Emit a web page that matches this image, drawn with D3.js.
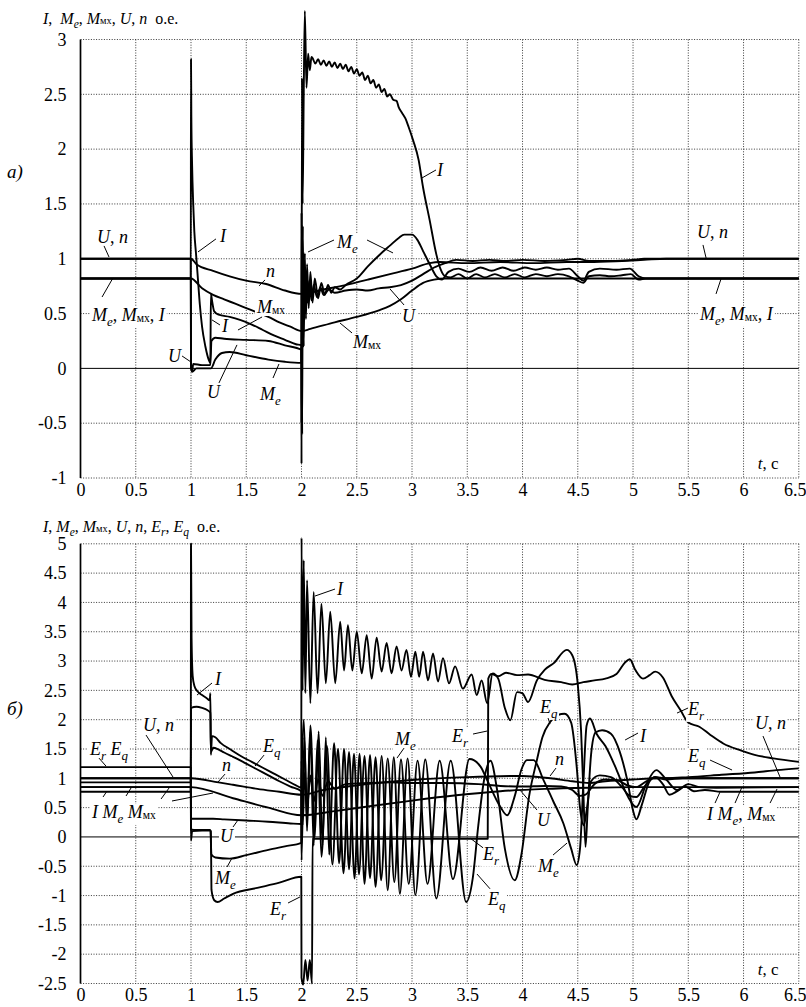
<!DOCTYPE html>
<html>
<head>
<meta charset="utf-8">
<script src="https://cdn.jsdelivr.net/npm/d3@7"></script>
</head>
<body style="margin:0">
<svg id="chart" width="806" height="1007"></svg>
<script>
// ---- ticks ----
const xTicks = [0, 0.5, 1, 1.5, 2, 2.5, 3, 3.5, 4, 4.5, 5, 5.5, 6, 6.5];
const topYTicks = [-1, -0.5, 0, 0.5, 1, 1.5, 2, 2.5, 3];
const botYTicks = [-2.5, -2, -1.5, -1, -0.5, 0, 0.5, 1, 1.5, 2, 2.5, 3, 3.5, 4, 4.5, 5];

// ---- a) series, [t, value] ----
const topI = [[0,0.82],[0.998,0.82],[1.0,2.82],[1.003,2.3],[1.01,1.85],[1.02,1.5],[1.03,1.25],[1.045,1.05],[1.06,0.85],[1.08,0.58],[1.1,0.38],[1.13,0.2],[1.16,0.08],[1.175,0.05],[1.18,0.68],[1.19,0.62],[1.21,0.52],[1.25,0.49],[1.35,0.47],[1.45,0.44],[1.55,0.4],[1.65,0.35],[1.75,0.3],[1.85,0.26],[1.95,0.22],[1.998,0.21],
  [2.0,-0.87],[2.004,2.65],[2.01,1.5],[2.02,2.5],[2.03,3.26],[2.045,2.56],[2.06,2.87],[2.075,2.72],[2.09,2.84],
  [2.1,2.83],[2.125,2.78],[2.15,2.82],[2.175,2.77],[2.2,2.81],[2.225,2.76],[2.25,2.8],[2.275,2.75],[2.3,2.79],[2.325,2.74],[2.35,2.78],[2.375,2.73],[2.4,2.77],[2.425,2.71],[2.45,2.75],[2.475,2.69],[2.5,2.73],[2.525,2.67],[2.55,2.7],[2.575,2.63],[2.6,2.67],[2.625,2.6],[2.65,2.63],[2.675,2.56],[2.7,2.59],[2.725,2.52],[2.75,2.55],[2.775,2.48],[2.8,2.5],[2.83,2.45],[2.86,2.44],[2.88,2.38],[2.91,2.33],[2.94,2.28],[2.97,2.2],[3.01,2.08],[3.06,1.9],[3.1,1.65],[3.16,1.35],[3.22,1.04],[3.26,0.9],[3.3,0.84],
  [3.35,0.83],[3.42,0.86],[3.5,0.82],[3.58,0.86],[3.66,0.83],[3.75,0.86],[3.84,0.83],[3.93,0.86],[4.02,0.83],[4.12,0.86],[4.22,0.84],[4.32,0.86],[4.42,0.84],[4.5,0.8],[4.55,0.78],[4.6,0.84],[4.7,0.85],[4.8,0.84],[4.9,0.85],[4.98,0.86],[5.05,0.81],[5.12,0.82],[6.5,0.82]];
const topMe = [[0,0.82],[0.998,0.82],[1.0,0.0],[1.01,-0.03],[1.05,0.0],[1.18,0.0],[1.22,0.08],[1.28,0.14],[1.35,0.15],[1.5,0.12],[1.7,0.08],[1.85,0.06],[1.998,0.05],
  [2.0,1.42],[2.006,-0.6],[2.012,1.3],[2.02,0.2],[2.03,1.05],[2.04,0.45],[2.05,0.95],[2.065,0.55],[2.08,0.88],[2.1,0.6],[2.12,0.82],[2.15,0.64],[2.18,0.78],[2.21,0.67],[2.24,0.76],[2.27,0.69],[2.3,0.74],[2.35,0.72],[2.4,0.76],[2.5,0.82],[2.6,0.93],[2.7,1.03],[2.8,1.12],[2.88,1.19],[2.93,1.22],[3.0,1.22],[3.05,1.17],[3.1,1.07],[3.16,0.95],[3.22,0.84],[3.27,0.81],
  [3.33,0.88],[3.42,0.91],[3.52,0.88],[3.62,0.92],[3.72,0.89],[3.82,0.92],[3.92,0.89],[4.02,0.92],[4.12,0.9],[4.22,0.92],[4.32,0.9],[4.42,0.91],[4.5,0.84],[4.55,0.8],[4.6,0.88],[4.7,0.91],[4.85,0.9],[4.97,0.91],[5.05,0.84],[5.12,0.82],[6.5,0.82]];
const topMmx = [[0,0.82],[1.0,0.82],[1.1,0.73],[1.2,0.67],[1.3,0.63],[1.4,0.59],[1.5,0.55],[1.6,0.51],[1.7,0.47],[1.8,0.42],[1.9,0.38],[2.0,0.34],[2.08,0.36],[2.3,0.42],[2.5,0.47],[2.7,0.53],[2.8,0.57],[2.9,0.63],[3.0,0.71],[3.1,0.78],[3.2,0.81],[3.3,0.82],[6.5,0.82]];
const topU = [[0,1.0],[0.998,1.0],[1.0,0.04],[1.01,-0.03],[1.02,0.04],[1.1,0.03],[1.175,0.03],[1.185,0.25],[1.22,0.28],[1.3,0.27],[1.5,0.26],[1.7,0.25],[1.85,0.21],[1.998,0.17],
  [2.0,-0.5],[2.005,1.0],[2.012,0.4],[2.02,0.9],[2.03,0.55],[2.04,0.85],[2.055,0.6],[2.07,0.8],[2.09,0.62],[2.11,0.76],[2.14,0.65],[2.17,0.74],[2.2,0.67],[2.25,0.72],[2.3,0.69],[2.4,0.71],[2.5,0.72],[2.6,0.71],[2.7,0.73],[2.8,0.74],[2.9,0.76],[3.0,0.8],[3.1,0.86],[3.2,0.92],[3.3,0.96],[3.4,0.99],[3.55,0.98],[3.7,0.99],[3.85,0.98],[4.0,0.99],[4.2,0.98],[4.4,0.99],[4.5,1.0],[4.6,0.98],[4.8,0.98],[5.0,0.99],[5.1,1.0],[6.5,1.0]];
const topN = [[0,1.0],[1.0,1.0],[1.05,0.95],[1.2,0.89],[1.35,0.84],[1.5,0.8],[1.68,0.77],[1.85,0.71],[2.0,0.68],[2.2,0.72],[2.4,0.76],[2.6,0.81],[2.8,0.86],[3.0,0.91],[3.16,0.96],[3.25,0.97],[3.5,0.96],[3.8,0.97],[4.1,0.96],[4.4,0.97],[4.6,0.97],[4.9,0.98],[5.1,0.99],[5.3,1.0],[6.5,1.0]];

// ---- б) series ----
const botI = [[0,0.77],[0.998,0.77],[1.0,5.0],[1.005,3.4],[1.015,2.75],[1.03,2.58],[1.06,2.48],[1.1,2.42],[1.14,2.37],[1.17,2.33],[1.175,2.45],[1.18,1.4],[1.19,1.72],[1.22,1.7],[1.27,1.6],[1.35,1.5],[1.45,1.38],[1.55,1.28],[1.65,1.18],[1.75,1.08],[1.85,0.98],[1.95,0.88],[1.998,0.84],
  [2.0,5.1],[2.01,2.5],[2.02,4.72],[2.035,2.45],[2.05,4.38],[2.08,2.28],[2.11,4.18],[2.145,2.45],[2.18,3.98],[2.22,2.62],[2.26,3.84],[2.305,2.62],[2.35,3.67],[2.385,2.84],[2.42,3.61],[2.46,2.84],[2.5,3.5],[2.545,2.79],[2.59,3.44],[2.635,2.7],[2.68,3.4],[2.725,2.82],[2.77,3.31],[2.815,2.79],[2.86,3.25],[2.905,2.84],[2.95,3.19],[2.99,2.73],[3.03,3.16],[3.065,2.73],[3.1,3.16],[3.145,2.67],[3.19,3.13],[3.235,2.65],[3.28,3.05],[3.335,2.62],[3.39,2.91],[3.46,2.53],[3.54,2.77],[3.585,2.42],[3.63,2.67],[3.68,2.28],
  [3.73,2.79],[3.78,2.7],[3.84,2.2],[3.89,1.99],[3.95,2.47],[4.0,2.45],[4.05,2.3],[4.13,2.67],[4.2,2.85],[4.28,2.96],[4.4,3.19],[4.45,3.1],[4.5,2.6],[4.53,1.8],[4.55,0.8],[4.57,-0.17],[4.59,0.5],[4.62,1.4],[4.66,1.78],[4.72,1.82],[4.8,1.76],[4.88,1.45],[4.95,0.95],[5.0,0.45],[5.03,0.3],[5.08,0.55],[5.15,0.95],[5.2,1.02],[5.27,0.9],[5.33,0.72],[5.4,0.78],[5.47,0.86],[5.55,0.78],[5.65,0.8],[5.8,0.77],[6.5,0.77]];
const botMe = [[0,0.85],[0.998,0.85],[1.0,-0.06],[1.01,0.1],[1.1,0.11],[1.175,0.11],[1.185,-0.3],[1.22,-0.35],[1.35,-0.37],[1.5,-0.31],[1.7,-0.22],[1.85,-0.16],[1.998,-0.1],
  [2.0,0.8],[2.02,2.0],[2.05,0.3],[2.08,1.9],[2.12,0.0],[2.155,1.8],[2.19,-0.15],[2.22,1.7],[2.25,-0.3],[2.295,1.6],[2.34,-0.45],[2.385,1.5],[2.43,-0.55],[2.475,1.42],[2.52,-0.64],[2.57,1.38],[2.62,-0.7],[2.67,1.36],[2.72,-0.74],[2.78,1.34],[2.84,-0.77],[2.9,1.32],[2.97,-0.8],[3.05,1.3],[3.14,-0.8],[3.25,1.3],[3.37,-0.72],[3.52,1.33],[3.62,1.2],[3.68,0.97],[3.8,0.51],[3.86,0.37],[3.93,0.7],[3.99,1.15],[4.04,1.31],[4.1,1.31],[4.19,0.97],[4.28,0.6],[4.37,0.23],[4.44,-0.2],[4.49,-0.48],[4.52,-0.2],[4.55,0.9],[4.58,1.9],[4.61,2.02],[4.67,1.76],[4.75,1.55],[4.85,1.15],[4.95,0.7],[5.03,0.51],[5.12,0.9],[5.21,1.14],[5.3,0.98],[5.4,0.8],[5.5,0.9],[5.6,0.85],[5.75,0.84],[6.5,0.85]];
const botMmx = [[0,0.85],[1.0,0.85],[1.38,0.66],[1.7,0.5],[2.0,0.37],[2.3,0.44],[2.6,0.52],[3.0,0.62],[3.4,0.71],[3.8,0.78],[4.2,0.82],[4.6,0.84],[5.0,0.85],[6.5,0.85]];
const botU = [[0,1.0],[0.998,1.0],[1.0,0.31],[1.05,0.31],[1.17,0.31],[1.2,0.31],[1.3,0.3],[1.5,0.28],[1.7,0.26],[1.9,0.23],[1.998,0.22],
  [2.0,1.3],[2.01,0.2],[2.03,1.1],[2.05,0.5],[2.08,1.05],[2.11,0.6],[2.15,0.98],[2.19,0.7],[2.24,0.95],[2.3,0.82],[2.4,0.9],[2.6,0.92],[2.8,0.93],[3.0,0.92],[3.3,0.92],[3.6,0.9],[3.8,0.87],[4.0,0.86],[4.2,0.87],[4.35,0.86],[4.45,0.8],[4.52,0.7],[4.57,0.72],[4.65,0.9],[4.75,0.98],[4.85,0.97],[4.95,0.88],[5.03,0.85],[5.12,0.95],[5.2,1.02],[5.3,0.98],[5.45,1.0],[6.5,1.0]];
const botN = [[0,1.0],[1.0,1.0],[1.25,0.93],[1.38,0.89],[1.6,0.82],[1.8,0.77],[2.0,0.72],[2.2,0.8],[2.5,0.88],[3.0,0.97],[3.5,1.02],[4.0,1.04],[4.25,1.0],[4.45,0.95],[4.6,0.92],[4.75,0.95],[5.0,0.98],[5.3,1.0],[6.5,1.0]];
const botEr = [[0,1.19],[0.998,1.19],[1.0,0.13],[1.05,0.12],[1.17,0.12],[1.18,0.1],[1.185,-0.9],[1.21,-1.08],[1.24,-1.11],[1.3,-1.05],[1.38,-0.97],[1.6,-0.87],[1.8,-0.78],[1.998,-0.68],
  [2.0,-2.4],[2.015,-2.52],[2.035,-2.1],[2.055,-2.45],[2.075,-2.1],[2.095,-2.5],[2.1,-0.03],[2.5,-0.03],[3.0,-0.03],[3.5,-0.03],[3.685,-0.03],
  [3.69,2.7],[3.72,2.78],[3.78,2.74],[3.85,2.8],[3.95,2.76],[4.05,2.77],[4.2,2.68],[4.35,2.64],[4.45,2.6],[4.55,2.64],[4.65,2.67],[4.75,2.7],[4.85,2.78],[4.93,2.98],[4.97,3.03],[5.02,2.85],[5.09,2.7],[5.15,2.76],[5.2,2.82],[5.27,2.72],[5.35,2.4],[5.43,2.16],[5.5,1.95],[5.6,1.88],[5.7,1.74],[5.82,1.59],[5.97,1.48],[6.1,1.4],[6.27,1.34],[6.5,1.28]];
const botEq = [[0,0.93],[0.998,0.93],[1.0,2.2],[1.05,2.22],[1.1,2.2],[1.15,2.16],[1.175,2.12],[1.18,1.45],[1.2,1.52],[1.25,1.49],[1.3,1.44],[1.4,1.35],[1.5,1.25],[1.6,1.15],[1.7,1.05],[1.8,0.95],[1.9,0.86],[1.998,0.78],
  [2.0,-0.4],[2.025,1.7],[2.05,0.1],[2.08,1.8],[2.11,-0.15],[2.145,1.65],[2.18,-0.34],[2.23,1.55],[2.28,-0.47],[2.33,1.5],[2.38,-0.62],[2.43,1.45],[2.48,-0.71],[2.525,1.42],[2.57,-0.8],[2.62,1.4],[2.67,-0.85],[2.725,1.38],[2.78,-0.91],[2.835,1.36],[2.89,-0.97],[2.96,1.34],[3.03,-0.99],[3.12,1.32],[3.22,-1.05],[3.35,1.3],[3.49,-1.11],[3.55,-0.7],[3.6,0.2],[3.65,0.95],[3.71,1.3],[3.77,0.8],[3.84,-0.2],[3.93,-0.74],[3.99,-0.3],[4.06,0.7],[4.13,1.31],[4.18,1.7],[4.25,1.96],[4.32,2.08],[4.38,2.1],[4.44,1.95],[4.49,1.2],[4.52,0.5],[4.555,0.2],[4.58,0.45],[4.62,0.95],[4.7,1.05],[4.8,1.02],[4.9,0.85],[4.97,0.7],[5.03,0.68],[5.1,0.85],[5.2,1.02],[5.3,1.0],[5.5,1.02],[5.8,1.06],[6.1,1.1],[6.3,1.14],[6.5,1.17]];

// ---- annotations: [t, value, text, leaders [[t1,v1,t2,v2],...]] ----
const topLabels = [
  [0.149, 1.144, "i:U|, |i:n", [[0.213,1.117,0.258,1.016]]],
  [1.262, 1.153, "i:I", [[1.226,1.181,1.063,1.062]]],
  [0.104, 0.432, "i:M|s:e|, |i:M|m:мх|, |i:I", [[0.294,0.825,0.195,0.651]]],
  [1.679, 0.834, "i:n", [[1.67,0.807,1.615,0.752]]],
  [1.597, 0.505, "i:M|m:мх", [[1.643,0.469,1.425,0.35]]],
  [1.281, 0.332, "i:I", [[1.262,0.396,1.19,0.442]]],
  [0.792, 0.058, "i:U", [[0.919,0.113,1.0,0.058]]],
  [1.145, -0.27, "i:U", [[1.253,-0.133,1.416,0.214]]],
  [1.624, -0.288, "i:M|s:e", [[1.742,-0.088,1.796,0.04]]],
  [2.321, 1.099, "i:M|s:e", [[2.294,1.171,2.059,1.062],[2.593,1.171,2.828,1.053]]],
  [3.226, 1.755, "i:I", [[3.217,1.81,3.09,1.737]]],
  [2.91, 0.423, "i:U", [[2.928,0.578,2.801,0.724]]],
  [2.466, 0.186, "i:M|m:мх", [[2.457,0.323,2.348,0.414]]],
  [5.579, 1.19, "i:U|, |i:n", [[5.633,1.126,5.661,1.007]]],
  [5.606, 0.442, "i:M|s:e|, |i:M|m:мх|, |i:I", [[5.751,0.679,5.796,0.816]]]
];
const botLabels = [
  [1.217, 2.591, "i:I", [[1.19,2.625,1.054,2.42]]],
  [0.566, 1.806, "i:U|, |i:n", [[0.593,1.738,0.837,1.022]]],
  [1.652, 1.447, "i:E|s:q", [[1.661,1.396,1.579,1.208]]],
  [1.281, 1.124, "i:n", [[1.308,1.072,1.244,0.936]]],
  [0.086, 1.396, "i:E|s:r| |i:E|s:q", [[0.167,1.345,0.231,1.208]]],
  [0.104, 0.322, "i:I| |i:M|s:e| |i:M|m:мх", [[0.204,0.681,0.24,0.783],[0.412,0.698,0.457,0.834],[0.729,0.647,0.801,0.834],[0.828,0.613,1.199,0.749]]],
  [1.262, -0.087, "i:U", [[1.38,0.169,1.425,0.288]]],
  [1.217, -0.803, "i:M|s:e", [[1.326,-0.513,1.371,-0.36]]],
  [1.715, -1.332, "i:E|s:r", [[1.878,-1.127,1.986,-1.024]]],
  [2.321, 4.126, "i:I", [[2.303,4.228,2.122,4.109]]],
  [2.846, 1.567, "i:M|s:e", [[2.928,1.516,2.864,1.345]]],
  [3.362, 1.618, "i:E|s:r", [[3.552,1.755,3.679,1.806]]],
  [4.158, 2.113, "i:E|s:q", [[4.231,2.028,4.249,1.925]]],
  [3.643, -0.391, "i:E|s:r", [[3.643,-0.186,3.525,-0.019]]],
  [3.688, -1.158, "i:E|s:q", [[3.706,-0.885,3.588,-0.633]]],
  [4.131, 0.186, "i:U", [[4.131,0.459,3.977,0.8]]],
  [4.14, -0.599, "i:M|s:e", [[4.276,-0.309,4.403,-0.104]]],
  [4.294, 1.227, "i:n", [[4.303,1.175,4.249,1.039]]],
  [5.498, 2.079, "i:E|s:r", [[5.498,2.199,5.398,2.113]]],
  [5.063, 1.618, "i:I", [[5.045,1.772,4.928,1.653]]],
  [6.104, 1.84, "i:U|, |i:n", [[6.176,1.721,6.33,1.022]]],
  [5.498, 1.277, "i:E|s:q", [[5.697,1.311,5.896,1.141]]],
  [5.67, 0.288, "i:I| |i:M|s:e|, |i:M|m:мх", [[5.742,0.578,5.787,0.766],[5.923,0.578,5.986,0.851],[6.24,0.578,6.303,0.817]]]
];

const FONT = "'Liberation Serif', serif";
const svg = d3.select("#chart");
svg.append("rect").attr("width", 806).attr("height", 1007).attr("fill", "#fff");

const x = d3.scaleLinear().domain([0, 6.5]).range([80.5, 798.8]);
const yTop = d3.scaleLinear().domain([-1, 3]).range([478, 39.5]);
const yBot = d3.scaleLinear().domain([-2.5, 5]).range([983.5, 543.8]);

// rich text: tokens split by "|", prefix i: italic, s: italic subscript, m: small subscript
function rich(g, px, py, spec, size) {
  const t = g.append("text").attr("x", px).attr("y", py).attr("font-size", size)
    .attr("font-family", FONT);
  let cur = 0;
  spec.split("|").forEach(tok => {
    let st = "n", str = tok;
    if (/^[ism]:/.test(tok)) { st = tok[0]; str = tok.slice(2); }
    str = str.replace(/ /g, "\u00a0");
    const off = st === "s" ? size * 0.27 : st === "m" ? size * 0.05 : 0;
    const sp = t.append("tspan").text(str).attr("dy", off - cur);
    cur = off;
    if (st === "i" || st === "s") sp.attr("font-style", "italic");
    if (st === "s") sp.attr("font-size", size * 0.72);
    if (st === "m") sp.attr("font-size", size * 0.64);
  });
  return t;
}

function panel(y, yTicks, series, labels, title, titleY, letter) {
  const g = svg.append("g");
  const y0 = d3.min(yTicks), y1 = d3.max(yTicks);
  const grid = g.append("g").attr("stroke", "#222").attr("stroke-width", 0.9)
    .attr("stroke-dasharray", "1,1.6");
  grid.selectAll(".v").data(xTicks.filter(d => d > 0)).join("line")
    .attr("x1", d => x(d)).attr("x2", d => x(d)).attr("y1", y(y1)).attr("y2", y(y0));
  grid.selectAll(".h").data(yTicks.filter(d => d !== 0)).join("line")
    .attr("x1", x(0)).attr("x2", x(6.5)).attr("y1", d => y(d)).attr("y2", d => y(d));
  g.append("line").attr("x1", x(0)).attr("x2", x(6.5)).attr("y1", y(0)).attr("y2", y(0))
    .attr("stroke", "#000").attr("stroke-width", 1);
  g.append("line").attr("x1", x(0)).attr("x2", x(0)).attr("y1", y(y1)).attr("y2", y(y0))
    .attr("stroke", "#000").attr("stroke-width", 1.7);

  const ay = g.append("g").attr("transform", `translate(${x(0)},0)`)
    .call(d3.axisLeft(y).tickValues(yTicks).tickSize(0).tickPadding(14).tickFormat(d => String(d)));
  ay.select(".domain").remove();
  ay.attr("font-family", FONT).attr("font-size", 18);
  const ax = g.append("g").attr("transform", `translate(0,${y(y0)})`)
    .call(d3.axisBottom(x).tickValues(xTicks).tickSize(0).tickPadding(5).tickFormat(d => String(d)));
  ax.select(".domain").remove();
  ax.attr("font-family", FONT).attr("font-size", 18);
  ax.selectAll("text").attr("dx", d => d === 6.5 ? -4 : 0);

  const line = d3.line().x(d => x(d[0])).y(d => y(d[1])).curve(d3.curveMonotoneX);
  g.append("g").selectAll("path").data(series).join("path")
    .attr("d", line).attr("fill", "none").attr("stroke", "#000")
    .attr("stroke-width", 1.9).attr("stroke-linejoin", "round");

  // labels with white boxes and leader lines
  const lg = g.append("g");
  labels.forEach(l => {
    const t = rich(lg, x(l[0]), y(l[1]), l[2], 18);
    const b = t.node().getBBox();
    lg.insert("rect", "text").attr("x", b.x - 1).attr("y", b.y + 2).attr("width", b.width + 2)
      .attr("height", b.height - 3).attr("fill", "#fff");
    l[3].forEach(s => lg.append("line").attr("x1", x(s[0])).attr("y1", y(s[1]))
      .attr("x2", x(s[2])).attr("y2", y(s[3])).attr("stroke", "#000").attr("stroke-width", 1));
  });

  rich(g, 43, titleY, title, 16);
  rich(g, 7, letter[1], letter[0], 19);
  rich(g, x(6.5) - 41, y(y0) - 9, "i:t|, с", 17);
}

panel(yTop, topYTicks, [topMmx, topN, topU, topMe, topI], topLabels,
  "i:I|,  |i:M|s:e|, |i:M|m:мх|, |i:U|, |i:n|  о.е.", 23.5, ["i:а)", 178]);
panel(yBot, botYTicks, [botMmx, botN, botU, botEr, botEq, botMe, botI], botLabels,
  "i:I|, |i:M|s:e|, |i:M|m:мх|, |i:U|, |i:n|, |i:E|s:r|, |i:E|s:q|  о.е.", 531.5, ["i:б)", 715]);
</script>
</body>
</html>
